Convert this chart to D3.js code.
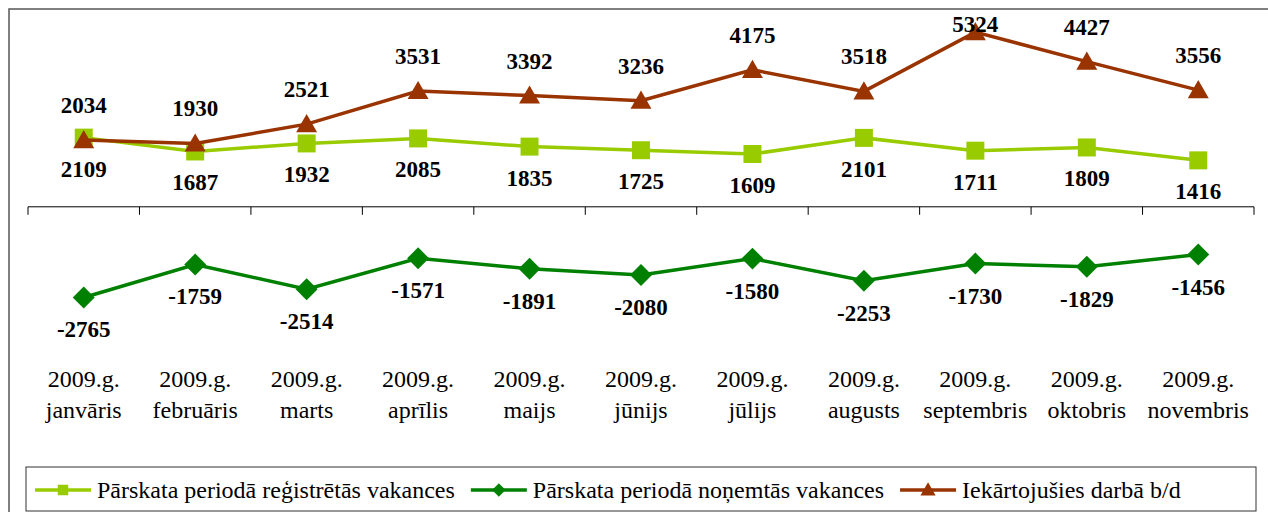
<!DOCTYPE html>
<html>
<head>
<meta charset="utf-8">
<script src="https://cdn.jsdelivr.net/npm/d3@7"></script>
</head>
<body style="margin:0;background:#fff">
<script>
const width = 1268;
const height = 512;
const fontName = ["Liberation", "Serif"].join(" ");
const fontFamily = `'${fontName}'`;

const months = ["janvāris", "februāris", "marts", "aprīlis", "maijs", "jūnijs",
  "jūlijs", "augusts", "septembris", "oktobris", "novembris"];
const yearLabel = "2009.g.";

const registered = [2109, 1687, 1932, 2085, 1835, 1725, 1609, 2101, 1711, 1809, 1416];
const removed = [-2765, -1759, -2514, -1571, -1891, -2080, -1580, -2253, -1730, -1829, -1456];
const employed = [2034, 1930, 2521, 3531, 3392, 3236, 4175, 3518, 5324, 4427, 3556];

const seriesNames = [
  "Pārskata periodā reģistrētās vakances",
  "Pārskata periodā noņemtās vakances",
  "Iekārtojušies darbā b/d"
];

const series = [
  { name: seriesNames[0], values: registered, color: "#99cc00", symbol: "square", labelDy: 39 },
  { name: seriesNames[1], values: removed, color: "#008000", symbol: "diamond", labelDy: 40 },
  { name: seriesNames[2], values: employed, color: "#993300", symbol: "triangle", labelDy: -27 }
];

const svg = d3.select("body").append("svg")
  .attr("width", width)
  .attr("height", height)
  .style("display", "block");

// chart area border (right and bottom edges fall outside the picture)
svg.append("rect")
  .attr("x", 9).attr("y", 9)
  .attr("width", 1400).attr("height", 800)
  .attr("fill", "none")
  .attr("stroke", "#555")
  .attr("stroke-width", 1.5);

const x = d3.scaleBand()
  .domain(months)
  .range([28, 1254]);

const y = d3.scaleLinear()
  .domain([-4000, 6000])
  .range([338, 10]);

const cx = i => x(months[i]) + x.bandwidth() / 2;

// category axis at zero with ticks between categories
svg.append("line")
  .attr("x1", x.range()[0]).attr("x2", x.range()[1])
  .attr("y1", y(0)).attr("y2", y(0))
  .attr("stroke", "#000");
svg.selectAll("line.tick")
  .data(d3.range(months.length + 1))
  .join("line")
  .attr("class", "tick")
  .attr("x1", i => x.range()[0] + i * x.step())
  .attr("x2", i => x.range()[0] + i * x.step())
  .attr("y1", y(0)).attr("y2", y(0) + 8)
  .attr("stroke", "#000");

const symbols = {
  square: d3.symbol().type(d3.symbolSquare).size(324),
  diamond: d3.symbol().type(d3.symbolSquare).size(240),
  triangle: d3.symbol().type(d3.symbolTriangle).size(190)
};
const legendSymbols = {
  square: d3.symbol().type(d3.symbolSquare).size(110),
  diamond: d3.symbol().type(d3.symbolSquare).size(90),
  triangle: d3.symbol().type(d3.symbolTriangle).size(100)
};
const rot = s => (s === "diamond" ? " rotate(45)" : "");
const dy = s => (s === "triangle" ? 2 : 0);

const line = d3.line()
  .x((d, i) => cx(i))
  .y(d => y(d));

series.forEach((s, k) => {
  svg.append("path")
    .attr("d", line(s.values))
    .attr("fill", "none")
    .attr("stroke", s.color)
    .attr("stroke-width", 3.5);
  svg.selectAll(`path.m${k}`)
    .data(s.values)
    .join("path")
    .attr("class", `m${k}`)
    .attr("d", symbols[s.symbol])
    .attr("transform", (d, i) => `translate(${cx(i)},${y(d) + dy(s.symbol)})${rot(s.symbol)}`)
    .attr("fill", s.color);
});

// category labels below the plot, two lines each
months.forEach(m => {
  svg.append("text")
    .attr("font-size", 24)
    .style("font-family", fontFamily)
    .attr("text-anchor", "middle")
    .attr("x", x(m) + x.bandwidth() / 2)
    .attr("y", 387)
    .text(yearLabel);
  svg.append("text")
    .attr("font-size", 24)
    .style("font-family", fontFamily)
    .attr("text-anchor", "middle")
    .attr("x", x(m) + x.bandwidth() / 2)
    .attr("y", 418)
    .text(m);
});

// data labels drawn on top
series.forEach((s, k) => {
  svg.selectAll(`text.l${k}`)
    .data(s.values)
    .join("text")
    .attr("class", `l${k}`)
    .attr("font-size", 23)
    .style("font-family", fontFamily)
    .attr("font-weight", "bold")
    .attr("x", (d, i) => cx(i))
    .attr("y", d => Math.max(y(d) + s.labelDy, 32))
    .attr("text-anchor", "middle")
    .text(d => d);
});

// legend
svg.append("rect")
  .attr("x", 26).attr("y", 467)
  .attr("width", 1230).attr("height", 44)
  .attr("fill", "#fff")
  .attr("stroke", "#333")
  .attr("stroke-width", 1);

let lx = 35;
series.forEach(s => {
  svg.append("line")
    .attr("x1", lx).attr("x2", lx + 56)
    .attr("y1", 490).attr("y2", 490)
    .attr("stroke", s.color)
    .attr("stroke-width", 3.5);
  svg.append("path")
    .attr("d", legendSymbols[s.symbol])
    .attr("transform", `translate(${lx + 28},${490 + dy(s.symbol) / 2})${rot(s.symbol)}`)
    .attr("fill", s.color);
  const t = svg.append("text")
    .attr("font-size", 24)
    .style("font-family", fontFamily)
    .attr("x", lx + 62)
    .attr("y", 498)
    .text(s.name);
  lx += 62 + t.node().getComputedTextLength() + 16;
});
</script>
</body>
</html>
